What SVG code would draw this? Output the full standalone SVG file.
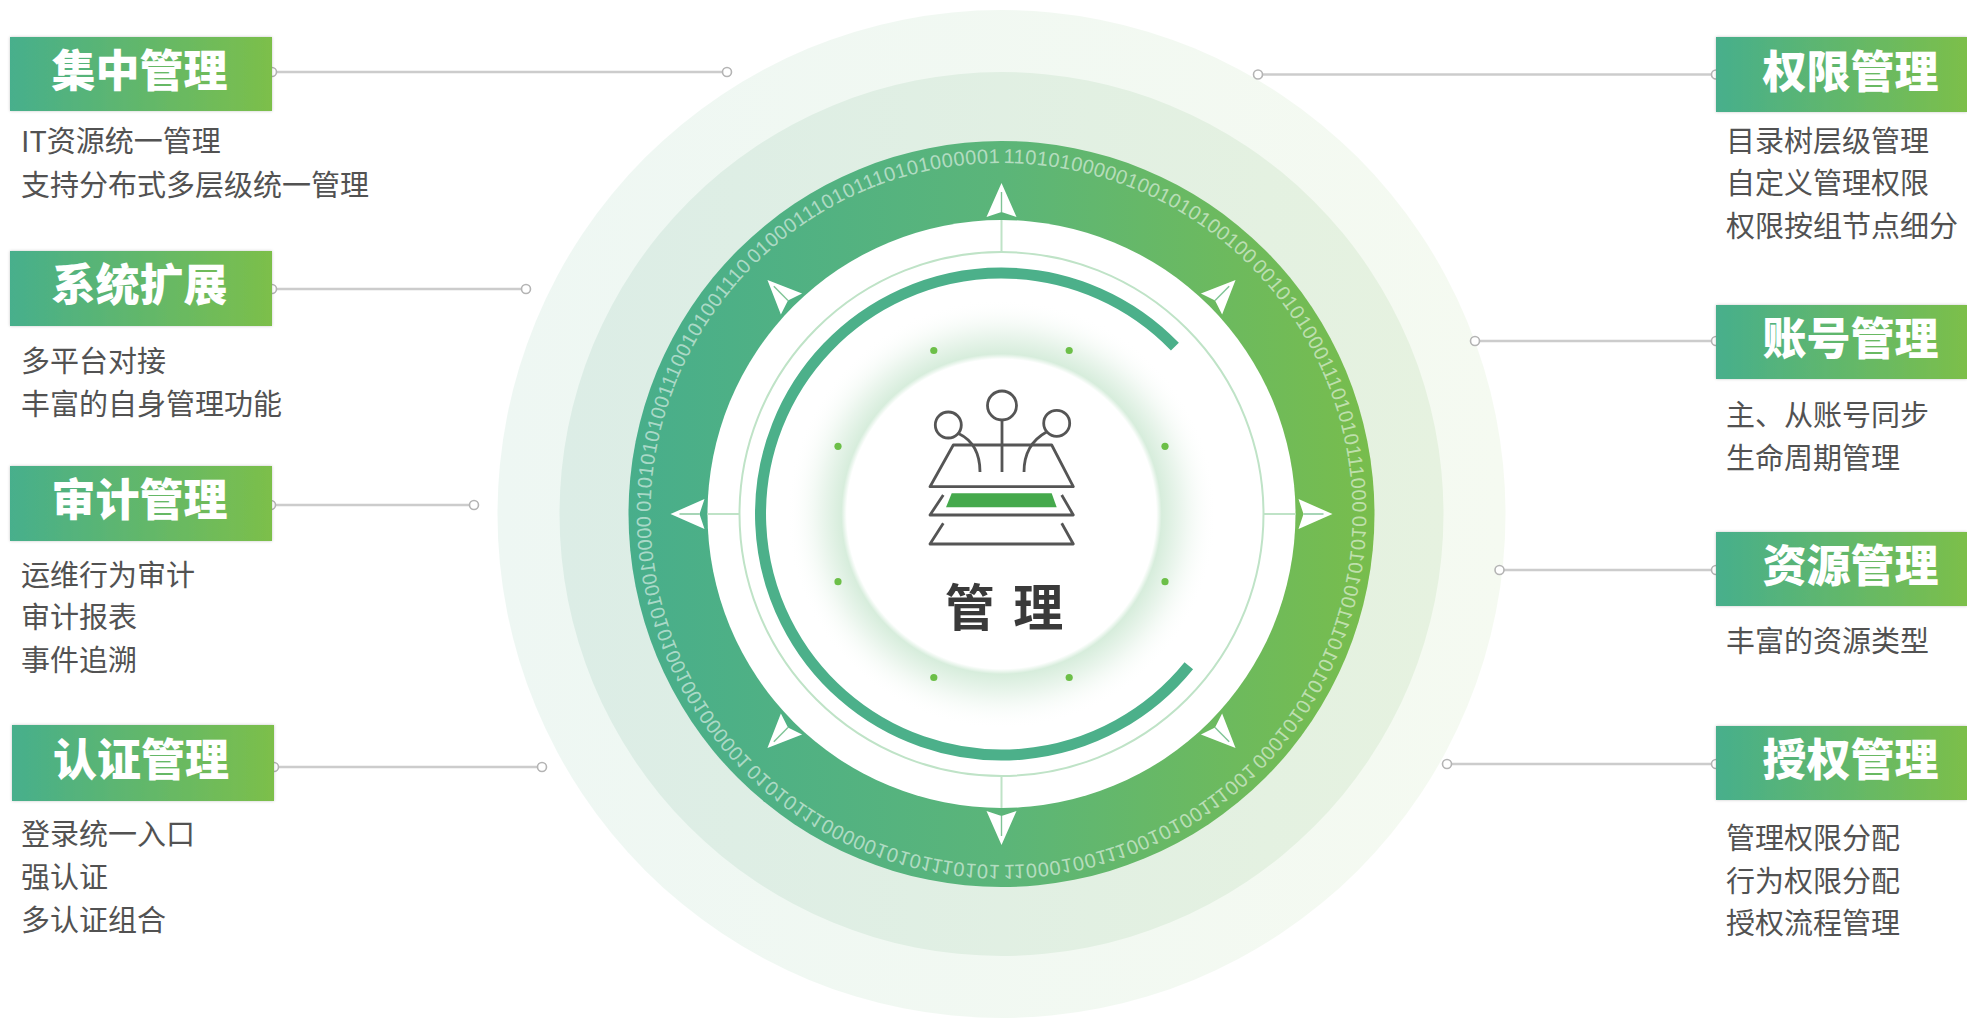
<svg xmlns="http://www.w3.org/2000/svg" xmlns:xlink="http://www.w3.org/1999/xlink" width="1967" height="1020" viewBox="0 0 1967 1020">
  <defs>
    <style>
      .hd { font-family: "Noto Sans CJK SC", "Noto Sans", sans-serif; font-size: 44px; font-weight: 900; fill: #ffffff; text-anchor: middle; }
      .ds { font-family: "Noto Sans CJK SC", "Noto Sans", sans-serif; font-size: 29px; fill: #525252; }
      .conn { stroke: #cccccc; stroke-width: 2.6; fill: none; }
      .pin { fill: #ffffff; stroke: #b4b4b4; stroke-width: 1.6; }
      .bin { font-family: "Liberation Sans", "DejaVu Sans", sans-serif; font-size: 20px; fill: #ffffff; fill-opacity: 0.55; }
      .icon { fill: none; stroke: #555555; stroke-width: 2.8; stroke-linejoin: round; }
    </style>
    <linearGradient id="boxGrad" x1="0" y1="0" x2="1" y2="0">
      <stop offset="0" stop-color="#47af8c"/>
      <stop offset="1" stop-color="#7cbf4a"/>
    </linearGradient>
    <linearGradient id="ringGrad" gradientUnits="userSpaceOnUse" x1="628" y1="0" x2="1375" y2="0">
      <stop offset="0" stop-color="#48ae8b"/>
      <stop offset="0.5" stop-color="#5bb579"/>
      <stop offset="1" stop-color="#78bd4c"/>
    </linearGradient>
    <linearGradient id="bandGrad" gradientUnits="userSpaceOnUse" x1="560" y1="0" x2="1444" y2="0">
      <stop offset="0" stop-color="#dcede6"/>
      <stop offset="1" stop-color="#e6f2e0"/>
    </linearGradient>
    <linearGradient id="haloGrad" gradientUnits="userSpaceOnUse" x1="498" y1="0" x2="1506" y2="0">
      <stop offset="0" stop-color="#eef7f3"/>
      <stop offset="1" stop-color="#f5faf1"/>
    </linearGradient>
    <radialGradient id="coreGlow" cx="1001.5" cy="514" r="215" gradientUnits="userSpaceOnUse">
      <stop offset="0" stop-color="#ffffff"/>
      <stop offset="0.72" stop-color="#ffffff"/>
      <stop offset="0.745" stop-color="#d7eddc"/>
      <stop offset="0.85" stop-color="#eef7f0"/>
      <stop offset="1" stop-color="#ffffff" stop-opacity="0"/>
    </radialGradient>
    <filter id="boxShadow" x="-5%" y="-20%" width="110%" height="140%">
      <feDropShadow dx="0" dy="0" stdDeviation="1.5" flood-color="#000000" flood-opacity="0.22"/>
    </filter>
    <!-- white compass point, tip at origin, pointing up -->
    <g id="arrow">
      <path d="M0 0 L-15 34 L0 29 L15 34 Z" fill="#ffffff"/>
      <path d="M0 9 V29" stroke="#5fb47c" stroke-opacity="0.8" stroke-width="1.4"/>
    </g>
    <!-- upper half of the binary ring in four clockwise octants -->
    <path id="oct1" d="M 650.5 514 A 351 351 0 0 1 753.3 265.8"/>
    <path id="oct2" d="M 753.3 265.8 A 351 351 0 0 1 1001.5 163"/>
    <path id="oct3" d="M 1001.5 163 A 351 351 0 0 1 1249.7 265.8"/>
    <path id="oct4" d="M 1249.7 265.8 A 351 351 0 0 1 1352.5 514"/>
  </defs>

  <rect width="1967" height="1020" fill="#ffffff"/>

  <!-- central dial -->
  <g id="dial">
    <circle cx="1001.5" cy="514" r="504" fill="url(#haloGrad)"/>
    <circle cx="1001.5" cy="514" r="442" fill="url(#bandGrad)"/>
    <circle cx="1001.5" cy="514" r="373" fill="url(#ringGrad)"/>
    <circle cx="1001.5" cy="514" r="294" fill="#ffffff"/>

    <!-- binary digits around the ring -->
    <g id="binary-top">
      <text class="bin"><textPath href="#oct1" startOffset="2" textLength="272" lengthAdjust="spacing">010101010011100101001110</textPath></text>
      <text class="bin"><textPath href="#oct2" startOffset="2" textLength="272" lengthAdjust="spacing">010001110101110101000001</textPath></text>
      <text class="bin"><textPath href="#oct3" startOffset="2" textLength="272" lengthAdjust="spacing">110101000001001010100100</textPath></text>
      <text class="bin"><textPath href="#oct4" startOffset="2" textLength="272" lengthAdjust="spacing">001010100011101010111000</textPath></text>
    </g>
    <!-- lower half: the same track reflected across the horizontal axis -->
    <g id="binary-bottom" transform="translate(0 1028) scale(1 -1)">
      <text class="bin"><textPath href="#oct1" startOffset="2" textLength="272" lengthAdjust="spacing">000010010101001001000001</textPath></text>
      <text class="bin"><textPath href="#oct2" startOffset="2" textLength="272" lengthAdjust="spacing">010101110000010101110101</textPath></text>
      <text class="bin"><textPath href="#oct3" startOffset="2" textLength="272" lengthAdjust="spacing">110001001110010100111001</textPath></text>
      <text class="bin"><textPath href="#oct4" startOffset="2" textLength="272" lengthAdjust="spacing">000101010101011100101010</textPath></text>
    </g>

    <!-- compass points -->
    <g id="points">
      <use href="#arrow" transform="translate(1001.5 514) rotate(0) translate(0 -331)"/>
      <use href="#arrow" transform="translate(1001.5 514) rotate(45) translate(0 -331)"/>
      <use href="#arrow" transform="translate(1001.5 514) rotate(90) translate(0 -331)"/>
      <use href="#arrow" transform="translate(1001.5 514) rotate(135) translate(0 -331)"/>
      <use href="#arrow" transform="translate(1001.5 514) rotate(180) translate(0 -331)"/>
      <use href="#arrow" transform="translate(1001.5 514) rotate(225) translate(0 -331)"/>
      <use href="#arrow" transform="translate(1001.5 514) rotate(270) translate(0 -331)"/>
      <use href="#arrow" transform="translate(1001.5 514) rotate(315) translate(0 -331)"/>
    </g>

    <!-- cardinal ticks and thin inner ring -->
    <g stroke="#bfe3c7" stroke-width="2" fill="none">
      <line x1="1001.5" y1="220" x2="1001.5" y2="252"/>
      <line x1="1001.5" y1="776" x2="1001.5" y2="808"/>
      <line x1="707.5" y1="514" x2="739.5" y2="514"/>
      <line x1="1263.5" y1="514" x2="1295.5" y2="514"/>
      <circle cx="1001.5" cy="514" r="262"/>
    </g>

    <!-- thick open arc -->
    <path d="M 1174.9 346.6 A 241 241 0 1 0 1188.8 665.7" fill="none" stroke="#4cb08a" stroke-width="11"/>

    <!-- core with soft glow -->
    <circle cx="1001.5" cy="514" r="215" fill="url(#coreGlow)"/>

    <g fill="#6cbf48">
      <circle cx="1165" cy="581.7" r="3.6"/>
      <circle cx="1069.2" cy="677.5" r="3.6"/>
      <circle cx="933.8" cy="677.5" r="3.6"/>
      <circle cx="838" cy="581.7" r="3.6"/>
      <circle cx="838" cy="446.3" r="3.6"/>
      <circle cx="933.8" cy="350.5" r="3.6"/>
      <circle cx="1069.2" cy="350.5" r="3.6"/>
      <circle cx="1165" cy="446.3" r="3.6"/>
    </g>

    <!-- management icon -->
    <g id="icon" class="icon">
      <circle cx="948.3" cy="425" r="13"/>
      <circle cx="1002" cy="405.5" r="14.5"/>
      <circle cx="1056.7" cy="423.3" r="13"/>
      <line x1="1002" y1="420" x2="1002" y2="472"/>
      <path d="M958.5 433.5 C972 440 980 452 980 472"/>
      <path d="M1046.5 432 C1032 440 1024 452 1024 472"/>
      <path d="M930 486.7 L953.3 445 L1051.7 445 L1073.3 486.7 Z"/>
      <path d="M943.3 495 L930 515 L1073.3 515 L1061.7 495"/>
      <path d="M943.3 523.3 L930 544 L1073.3 544 L1061.7 523.3"/>
      <path d="M951.7 493.3 L1051.7 493.3 L1056.7 507.3 L946 507.3 Z" fill="#45a94c" stroke="none"/>
    </g>
    <text x="1004" y="626" font-family="Noto Sans CJK SC, sans-serif" font-size="50" font-weight="700" fill="#3a3a3a" text-anchor="middle" word-spacing="7">管 理</text>
  </g>

  <!-- connectors -->
  <g id="connectors">
    <line class="conn" x1="272" y1="72" x2="727" y2="72"/>
    <line class="conn" x1="272" y1="289" x2="526" y2="289"/>
    <line class="conn" x1="271" y1="505" x2="474" y2="505"/>
    <line class="conn" x1="274" y1="767" x2="542" y2="767"/>
    <line class="conn" x1="1258" y1="74.5" x2="1716" y2="74.5"/>
    <line class="conn" x1="1475" y1="341" x2="1716" y2="341"/>
    <line class="conn" x1="1499.5" y1="570" x2="1716" y2="570"/>
    <line class="conn" x1="1447" y1="764" x2="1716" y2="764"/>
    <g class="pin">
      <circle cx="272" cy="72" r="4.5"/><circle cx="727" cy="72" r="4.5"/>
      <circle cx="272" cy="289" r="4.5"/><circle cx="526" cy="289" r="4.5"/>
      <circle cx="271" cy="505" r="4.5"/><circle cx="474" cy="505" r="4.5"/>
      <circle cx="274" cy="767" r="4.5"/><circle cx="542" cy="767" r="4.5"/>
      <circle cx="1258" cy="74.5" r="4.5"/><circle cx="1716" cy="74.5" r="4.5"/>
      <circle cx="1475" cy="341" r="4.5"/><circle cx="1716" cy="341" r="4.5"/>
      <circle cx="1499.5" cy="570" r="4.5"/><circle cx="1716" cy="570" r="4.5"/>
      <circle cx="1447" cy="764" r="4.5"/><circle cx="1716" cy="764" r="4.5"/>
    </g>
  </g>

  <!-- left column -->
  <g id="node-jizhong">
    <rect x="10" y="37" width="262" height="74" fill="url(#boxGrad)" filter="url(#boxShadow)"/>
    <text class="hd" x="139.5" y="86.5">集中管理</text>
    <text class="ds" x="21" y="151.5">IT资源统一管理</text>
    <text class="ds" x="21" y="195.5">支持分布式多层级统一管理</text>
  </g>
  <g id="node-kuozhan">
    <rect x="10" y="251" width="262" height="75" fill="url(#boxGrad)" filter="url(#boxShadow)"/>
    <text class="hd" x="139.5" y="301">系统扩展</text>
    <text class="ds" x="21" y="372">多平台对接</text>
    <text class="ds" x="21" y="415">丰富的自身管理功能</text>
  </g>
  <g id="node-shenji">
    <rect x="10" y="466" width="262" height="75" fill="url(#boxGrad)" filter="url(#boxShadow)"/>
    <text class="hd" x="139.5" y="516">审计管理</text>
    <text class="ds" x="21" y="585.5">运维行为审计</text>
    <text class="ds" x="21" y="628">审计报表</text>
    <text class="ds" x="21" y="671">事件追溯</text>
  </g>
  <g id="node-renzheng">
    <rect x="12" y="725" width="262" height="76" fill="url(#boxGrad)" filter="url(#boxShadow)"/>
    <text class="hd" x="141" y="775.5">认证管理</text>
    <text class="ds" x="21" y="845">登录统一入口</text>
    <text class="ds" x="21" y="888">强认证</text>
    <text class="ds" x="21" y="930.5">多认证组合</text>
  </g>

  <!-- right column -->
  <g id="node-quanxian">
    <rect x="1716" y="37" width="251" height="75" fill="url(#boxGrad)" filter="url(#boxShadow)"/>
    <text class="hd" x="1850.5" y="88">权限管理</text>
    <text class="ds" x="1726" y="151.5">目录树层级管理</text>
    <text class="ds" x="1726" y="194">自定义管理权限</text>
    <text class="ds" x="1726" y="237">权限按组节点细分</text>
  </g>
  <g id="node-zhanghao">
    <rect x="1716" y="305" width="251" height="74" fill="url(#boxGrad)" filter="url(#boxShadow)"/>
    <text class="hd" x="1850.5" y="355">账号管理</text>
    <text class="ds" x="1726" y="426">主、从账号同步</text>
    <text class="ds" x="1726" y="469">生命周期管理</text>
  </g>
  <g id="node-ziyuan">
    <rect x="1716" y="532" width="251" height="74" fill="url(#boxGrad)" filter="url(#boxShadow)"/>
    <text class="hd" x="1850.5" y="582">资源管理</text>
    <text class="ds" x="1726" y="652">丰富的资源类型</text>
  </g>
  <g id="node-shouquan">
    <rect x="1716" y="726" width="251" height="74" fill="url(#boxGrad)" filter="url(#boxShadow)"/>
    <text class="hd" x="1850.5" y="776">授权管理</text>
    <text class="ds" x="1726" y="849">管理权限分配</text>
    <text class="ds" x="1726" y="891.5">行为权限分配</text>
    <text class="ds" x="1726" y="934">授权流程管理</text>
  </g>
</svg>
